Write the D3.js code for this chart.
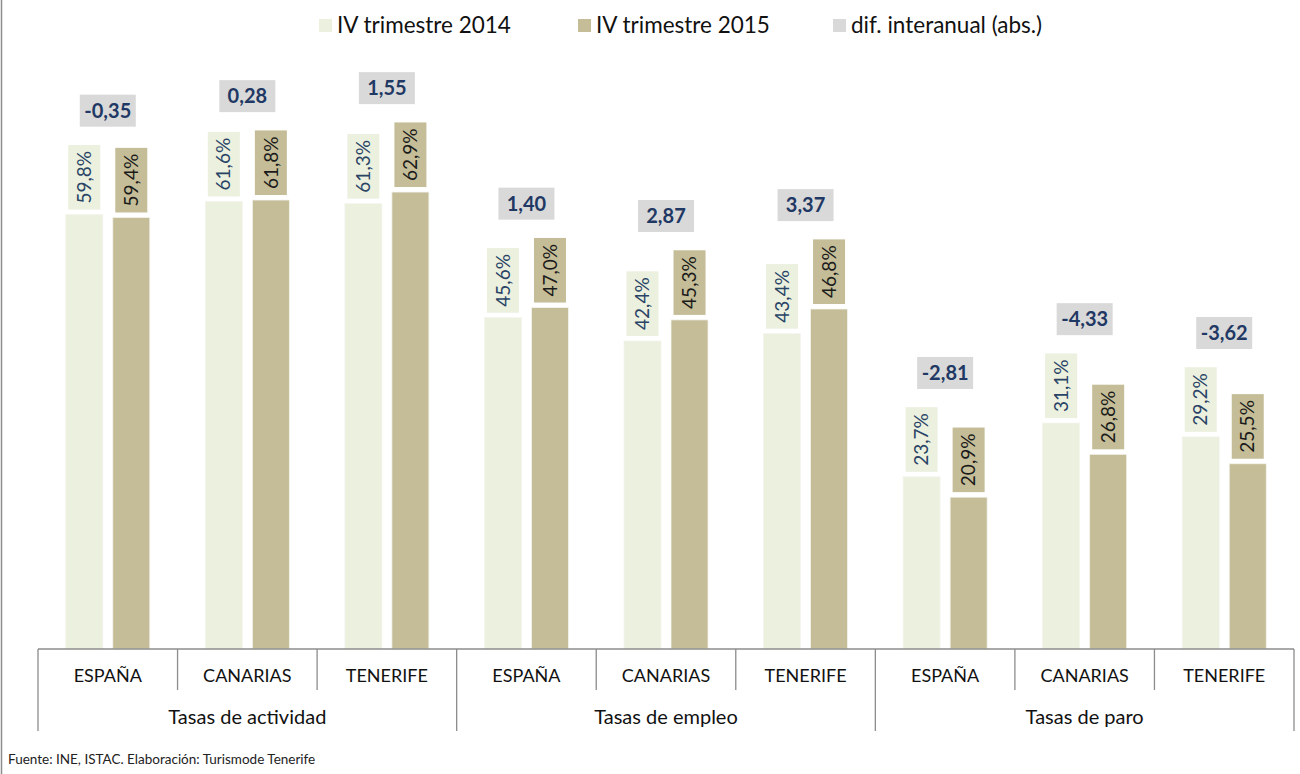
<!DOCTYPE html>
<html>
<head>
<meta charset="utf-8">
<script src="https://cdn.jsdelivr.net/npm/d3@7"></script>
<style>
  body { margin: 0; background: #fff; }
  svg text { font-family: Lato, "Liberation Sans", sans-serif; }
</style>
</head>
<body>
<svg class="chart" width="1300" height="774"></svg>
<script>
var groups = ["Tasas de actividad", "Tasas de empleo", "Tasas de paro"];
var regions = ["ESPAÑA", "CANARIAS", "TENERIFE"];
var series = ["IV trimestre 2014", "IV trimestre 2015", "dif. interanual (abs.)"];
var v2014 = [59.8, 61.6, 61.3, 45.6, 42.4, 43.4, 23.7, 31.1, 29.2];
var v2015 = [59.4, 61.8, 62.9, 47.0, 45.3, 46.8, 20.9, 26.8, 25.5];
var dif = [-0.35, 0.28, 1.55, 1.40, 2.87, 3.37, -2.81, -4.33, -3.62];

var colors = ["#ebf0df", "#c4bd97", "#d9d9d9"];
var es = d3.formatLocale({decimal: ",", thousands: ".", grouping: [3], currency: ["", "€"], minus: "-"});
var fPct = es.format(".1f"), fDif = es.format(".2f");

// one row per category
var data = [];
groups.forEach(function(g, gi) {
  regions.forEach(function(r, ri) {
    var i = gi * 3 + ri;
    data.push({key: i, group: g, region: r, a: v2014[i], b: v2015[i], dif: dif[i]});
  });
});

var svg = d3.select(".chart");
var baseY = 649, left = 38, right = 1294;

var x = d3.scaleBand().domain(data.map(function(d) { return d.key; }))
    .range([left, right]).padding(0);
var xi = d3.scaleBand().domain(["a", "b"]).range([0, x.bandwidth()])
    .paddingInner(0.213).paddingOuter(0.59);
var y = d3.scaleLinear().domain([0, 80]).range([baseY, baseY - 80 * 7.265]);

// left border of chart frame
svg.append("line").attr("x1", 1.5).attr("x2", 1.5).attr("y1", 0).attr("y2", 774)
  .attr("stroke", "#8c8c8c").attr("stroke-width", 1.5);

// legend
var legX = [319, 578, 833];
var leg = svg.append("g").selectAll("g").data(series).enter().append("g")
  .attr("transform", function(d, i) { return "translate(" + legX[i] + ",0)"; });
leg.append("rect").attr("x", 0).attr("y", 19).attr("width", 13).attr("height", 13)
  .attr("fill", function(d, i) { return colors[i]; });
leg.append("text").attr("x", 18).attr("y", 33).attr("font-size", 22.5).attr("fill", "#111")
  .text(function(d) { return d; });

// bars
var cat = svg.append("g").selectAll("g").data(data).enter().append("g")
  .attr("transform", function(d) { return "translate(" + x(d.key) + ",0)"; });

["a", "b"].forEach(function(k, si) {
  cat.append("rect")
    .attr("x", xi(k)).attr("width", xi.bandwidth())
    .attr("y", function(d) { return y(d[k]); })
    .attr("height", function(d) { return baseY - y(d[k]); })
    .attr("fill", colors[si]).attr("stroke", "#f4f4ee").attr("stroke-width", 0.8);

  var lab = cat.append("g")
    .attr("transform", function(d) {
      return "translate(" + (xi(k) + xi.bandwidth() / 2) + "," + (y(d[k]) - 5) + ")";
    });
  lab.append("rect").attr("fill", colors[si]);
  var t = lab.append("text")
    .attr("transform", "rotate(-90)")
    .attr("x", 6).attr("y", 0).attr("dy", "0.35em")
    .attr("font-size", 19)
    .attr("fill", si == 0 ? "#2a4466" : "#1a1a1a")
    .text(function(d) { return fPct(d[k]) + "%"; });
  t.each(function() {
    var len = this.getComputedTextLength();
    d3.select(this.parentNode).select("rect")
      .attr("x", -16).attr("width", 32).attr("y", -(len + 12)).attr("height", len + 12);
  });
});

// difference labels above each category
var dl = cat.append("g")
  .attr("transform", function(d) {
    return "translate(" + (x.bandwidth() / 2) + "," + y(Math.max(d.a, d.b) + 14.3) + ")";
  });
dl.append("rect").attr("x", -28).attr("y", -16).attr("width", 56).attr("height", 32)
  .attr("fill", colors[2]);
dl.append("text").attr("text-anchor", "middle").attr("dy", "0.36em")
  .attr("font-size", 20).attr("font-weight", "bold").attr("fill", "#1f3864")
  .text(function(d) { return fDif(d.dif); });

// axis: baseline, ticks, two-level labels
var ax = svg.append("g").attr("stroke", "#8c8c8c").attr("stroke-width", 1.3);
ax.append("line").attr("x1", left).attr("x2", right).attr("y1", baseY).attr("y2", baseY);
var edges = data.map(function(d) { return x(d.key); }).concat([right]);
ax.selectAll(".tick").data(edges).enter().append("line")
  .attr("x1", function(d) { return d; }).attr("x2", function(d) { return d; })
  .attr("y1", baseY)
  .attr("y2", function(d, i) { return i % 3 == 0 ? 731 : 690; });

svg.append("g").selectAll("text").data(data).enter().append("text")
  .attr("x", function(d) { return x(d.key) + x.bandwidth() / 2; })
  .attr("y", 682).attr("text-anchor", "middle").attr("font-size", 18).attr("fill", "#111")
  .text(function(d) { return d.region; });

svg.append("g").selectAll("text").data(groups).enter().append("text")
  .attr("x", function(d, i) { return (x(i * 3) + x(i * 3 + 2) + x.bandwidth()) / 2; })
  .attr("y", 724).attr("text-anchor", "middle").attr("font-size", 20).attr("fill", "#111")
  .text(function(d) { return d; });

svg.append("text").attr("x", 8).attr("y", 764).attr("font-size", 13.5).attr("fill", "#222")
  .text("Fuente: INE, ISTAC. Elaboración: Turismode Tenerife");
</script>
</body>
</html>
